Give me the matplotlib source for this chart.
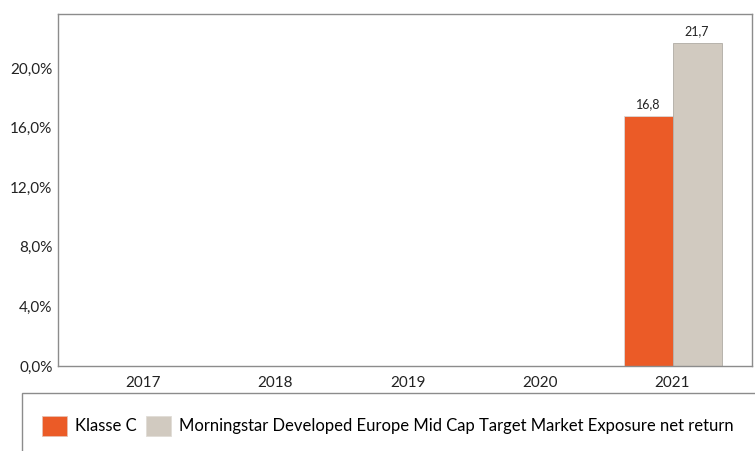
import matplotlib
matplotlib.use("Agg")
import matplotlib.pyplot as plt
from matplotlib.patches import Rectangle, Patch
import numpy as np

years = ["2017", "2018", "2019", "2020", "2021"]
klasse_c = [np.nan, np.nan, np.nan, np.nan, 16.8]
benchmark = [np.nan, np.nan, np.nan, np.nan, 21.7]
series_names = ["Klasse C", "Morningstar Developed Europe Mid Cap Target Market Exposure net return"]
yticks = [0, 4, 8, 12, 16, 20]

c_orange = "#EB5B27"
c_grey = "#D1CAC0"

plt.rcParams['font.family'] = ['Lato', 'DejaVu Sans']

fig = plt.figure(figsize=(7.55, 4.51), dpi=100)
ax = fig.add_axes([58/755, 1-366/451, (752-58)/755, (366-14)/451])

x = np.arange(len(years))
w = 0.37
ax.bar(x - w/2, klasse_c, width=w, color=c_orange, edgecolor="#D9D9D9", linewidth=0.6)
ax.bar(x + w/2, benchmark, width=w, color=c_grey, edgecolor="#B0ABA4", linewidth=0.6)

for xi, v in zip(x, klasse_c):
    if not np.isnan(v):
        ax.text(xi - w/2, v + 0.35, f"{v:.1f}".replace(".", ","), ha="center", va="bottom", fontsize=9, color="#222222")
for xi, v in zip(x, benchmark):
    if not np.isnan(v):
        ax.text(xi + w/2, v + 0.35, f"{v:.1f}".replace(".", ","), ha="center", va="bottom", fontsize=9, color="#222222")

ax.set_xlim(-0.64, 4.6)
ax.set_ylim(0, 23.62)
ax.set_xticks(x)
ax.set_xticklabels(years, fontsize=11)
ax.set_yticks(yticks)
ax.set_yticklabels([f"{t:.1f}%".replace(".", ",") for t in yticks], fontsize=11)
ax.tick_params(axis="both", length=0, colors="#222222")
ax.tick_params(axis="x", pad=7)
ax.tick_params(axis="y", pad=4)
for s in ax.spines.values():
    s.set_color("#8C8C8C")
    s.set_linewidth(1.0)

fig.patches.append(Rectangle((22/755, -0.2), 1.0, 0.2 + (1-393/451), transform=fig.transFigure,
                             fill=False, edgecolor="#8C8C8C", linewidth=1.0))
handles = [Patch(facecolor=c_orange, edgecolor="#E8C0B0", linewidth=0.6),
           Patch(facecolor=c_grey, edgecolor="#E0DCD6", linewidth=0.6)]
fig.legend(handles, series_names, loc="center left", bbox_to_anchor=(42/755, 1-426/451),
           ncol=2, frameon=False, fontsize=12, handlelength=1.5, handleheight=1.55,
           handletextpad=0.5, columnspacing=0.55, borderpad=0, borderaxespad=0)

fig.savefig("out.png", dpi=100)
